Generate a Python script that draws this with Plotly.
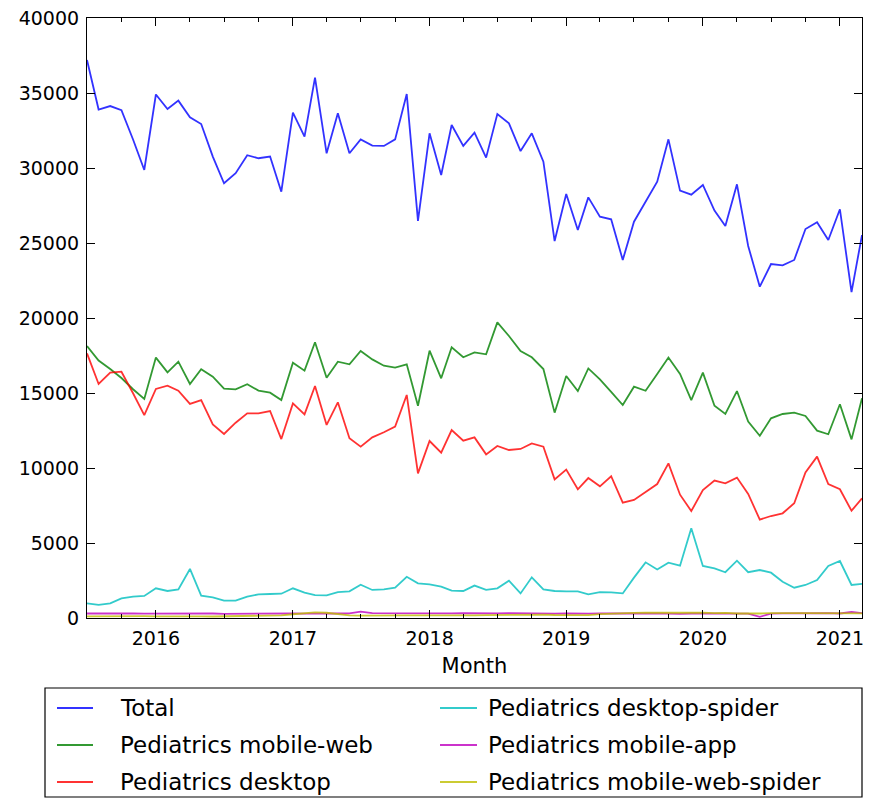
import pandas as pd
import plotly.graph_objects as go

months = pd.date_range("2015-07-01", periods=69, freq="MS")

total = [37200, 33900, 34130, 33850, 31900, 29870, 34900, 33930, 34490, 33380,
         32930, 30760, 28980, 29650, 30850, 30650, 30760, 28420, 33690, 32090,
         36020, 30980, 33650, 30980, 31910, 31490, 31470, 31910, 34930, 26470,
         32310, 29530, 32870, 31470, 32360, 30690, 33600, 32980, 31130, 32310,
         30420, 25130, 28270, 25870, 28040, 26760, 26580, 23870, 26420, 27760,
         29090, 31910, 28490, 28220, 28870, 27160, 26130, 28910, 24800, 22090,
         23600, 23510, 23870, 25930, 26380, 25200, 27250, 21730, 25530]

mobile_web = [18130, 17160, 16600, 16000, 15250, 14600, 17360, 16380, 17090, 15600,
              16580, 16090, 15290, 15240, 15580, 15160, 15020, 14530, 17020, 16490,
              18380, 16020, 17090, 16910, 17800, 17240, 16820, 16690, 16910, 14150,
              17820, 15980, 18050, 17380, 17710, 17580, 19710, 18800, 17800, 17380,
              16600, 13690, 16130, 15130, 16640, 15910, 15080, 14200, 15420, 15150,
              16270, 17360, 16270, 14530, 16360, 14150, 13600, 15130, 13090, 12150,
              13310, 13600, 13690, 13470, 12490, 12250, 14250, 11910, 14650]

desktop = [17640, 15600, 16360, 16420, 14980, 13530, 15270, 15490, 15150, 14270,
           14530, 12910, 12270, 13020, 13640, 13640, 13800, 11930, 14310, 13580,
           15470, 12870, 14380, 11980, 11420, 12040, 12380, 12760, 14870, 9640,
           11800, 11020, 12530, 11820, 12040, 10910, 11470, 11200, 11270, 11640,
           11420, 9240, 9890, 8580, 9330, 8780, 9450, 7690, 7870, 8420,
           8930, 10310, 8220, 7130, 8530, 9160, 8980, 9360, 8270, 6560,
           6800, 6980, 7650, 9710, 10760, 8930, 8580, 7150, 7980]

desktop_spider = [980, 870, 980, 1310, 1420, 1470, 1980, 1800, 1910, 3270,
                  1490, 1380, 1160, 1160, 1420, 1580, 1600, 1620, 1980, 1690,
                  1530, 1510, 1730, 1780, 2220, 1870, 1910, 2020, 2750, 2310,
                  2240, 2090, 1820, 1800, 2160, 1870, 1980, 2490, 1640, 2710,
                  1910, 1800, 1780, 1780, 1580, 1730, 1710, 1640, 2690, 3710,
                  3240, 3690, 3490, 5980, 3470, 3310, 3050, 3820, 3050, 3200,
                  3020, 2420, 2020, 2200, 2530, 3470, 3800, 2200, 2270]

mobile_app = [300, 310, 300, 290, 300, 290, 300, 310, 300, 280,
              290, 300, 280, 290, 270, 290, 280, 290, 300, 290,
              280, 290, 300, 310, 420, 330, 320, 310, 300, 310,
              320, 300, 310, 330, 310, 300, 310, 320, 300, 310,
              300, 290, 300, 280, 290, 300, 290, 280, 290, 300,
              310, 290, 280, 300, 290, 310, 280, 250, 290, 80,
              290, 310, 320, 300, 310, 330, 300, 400, 330]

mobile_web_spider = [110, 120, 110, 120, 110, 120, 110, 120, 110, 120,
                     110, 100, 110, 120, 130, 150, 160, 180, 250, 330,
                     380, 350, 260, 180, 160, 150, 170, 160, 170, 180,
                     170, 180, 190, 180, 170, 190, 200, 190, 200, 220,
                     230, 200, 180, 170, 190, 260, 300, 330, 340, 350,
                     360, 380, 390, 380, 360, 330, 340, 300, 290, 300,
                     320, 340, 330, 320, 310, 300, 300, 290, 310]

names = ["Total", "Pediatrics mobile-web", "Pediatrics desktop",
         "Pediatrics desktop-spider", "Pediatrics mobile-app",
         "Pediatrics mobile-web-spider"]
values = [total, mobile_web, desktop, desktop_spider, mobile_app, mobile_web_spider]
colors = ["#0000ff", "#008000", "#ff0000", "#00bfbf", "#bf00bf", "#bfbf00"]

# the page body has an 8px margin, so the figure is sized/placed to compensate
OFF = 8
W, H = 881 - OFF, 803 - OFF
ML, MT = 87 - OFF, 18 - OFF
MR, MB = 19, 185
PW, PH = W - ML - MR, H - MT - MB


def px(x):
    return (x - OFF - ML) / PW


def py(y):
    return (H - MB - (y - OFF)) / PH


fig = go.Figure()
for name, vals, color in zip(names, values, colors):
    fig.add_trace(go.Scatter(
        x=months, y=vals, mode="lines", name=name,
        line=dict(color=color, width=1.8), opacity=0.8,
    ))

# legend (two columns, column-major like the original), drawn as real text
shapes = [dict(type="rect", xref="paper", yref="paper",
               x0=px(45), x1=px(862), y0=py(797), y1=py(688),
               line=dict(color="black", width=1.2), fillcolor="rgba(0,0,0,0)")]
annotations = []
col_line = [(57, 93), (440, 477)]
col_text = [118, 486]
row_y = [708, 745, 782]
for k, (name, color) in enumerate(zip(names, colors)):
    c, r = divmod(k, 3)
    shapes.append(dict(type="line", xref="paper", yref="paper",
                       x0=px(col_line[c][0]), x1=px(col_line[c][1]),
                       y0=py(row_y[r]), y1=py(row_y[r]),
                       line=dict(color=color, width=1.8), opacity=0.8))
    annotations.append(dict(xref="paper", yref="paper", x=px(col_text[c]), y=py(row_y[r]),
                            xanchor="left", yanchor="middle", showarrow=False,
                            text=name, font=dict(family="DejaVu Sans", size=23, color="black")))

font = dict(family="DejaVu Sans", size=19, color="black")

fig.update_layout(
    width=W, height=H,
    margin=dict(l=ML, r=MR, t=MT, b=MB, autoexpand=False),
    paper_bgcolor="white", plot_bgcolor="white",
    font=font,
    showlegend=False,
    shapes=shapes,
    annotations=annotations,
)

fig.update_xaxes(
    range=[months[0], months[-1]],
    tick0="2016-01-01", dtick="M12", tickformat="%Y",
    ticks="inside", ticklen=8, tickwidth=1.2, tickcolor="black",
    minor=dict(dtick="M3", tick0="2016-01-01", ticks="inside", ticklen=4,
               tickwidth=1, tickcolor="black"),
    showline=True, linecolor="black", linewidth=1.2, mirror="ticks",
    showgrid=False, zeroline=False, automargin=False,
    ticklabelstandoff=3, ticklabeloverflow="allow",
    title=dict(text="Month", font=dict(family="DejaVu Sans", size=21), standoff=10),
    tickfont=font,
)
fig.update_yaxes(
    range=[0, 40000], dtick=5000, tickformat="d",
    ticks="inside", ticklen=8, tickwidth=1.2, tickcolor="black",
    showline=True, linecolor="black", linewidth=1.2, mirror="ticks",
    showgrid=False, zeroline=False, automargin=False,
    ticklabelstandoff=3, ticklabeloverflow="allow",
    tickfont=font,
)

fig.write_html("out.html")
